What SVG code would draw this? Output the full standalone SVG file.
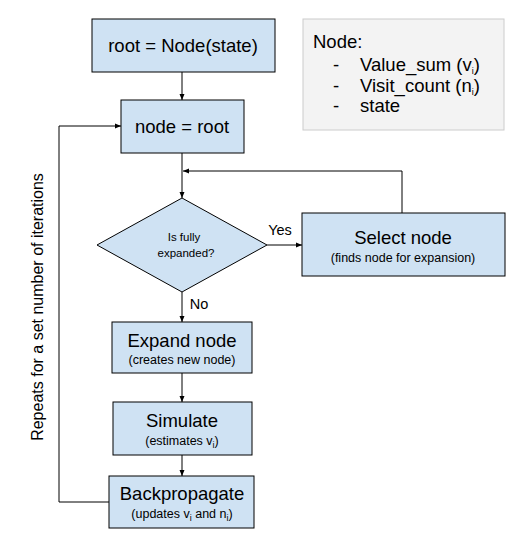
<svg xmlns="http://www.w3.org/2000/svg" width="527" height="544" viewBox="0 0 527 544">
<style>
.box{fill:#cfe2f3;stroke:#000;stroke-width:1}
.t{font-family:"Liberation Sans",Arial,sans-serif;fill:#000;text-anchor:middle}
.big{font-size:18.5px}
.sm{font-size:12.5px}
.xs{font-size:11.5px}
.ln{fill:none;stroke:#000;stroke-width:1}
.sub{font-size:9px}
.lg{font-family:"Liberation Sans",Arial,sans-serif;font-size:18.5px}
</style>
<defs>
<marker id="ah" markerWidth="6" markerHeight="6" refX="6" refY="3" orient="auto" markerUnits="userSpaceOnUse">
<path d="M0,0.5 L6,3 L0,5.5 Z" fill="#000"/>
</marker>
</defs>
<rect width="527" height="544" fill="#fff"/>
<g id="connectors">
<line class="ln" x1="182" y1="72" x2="182" y2="100" marker-end="url(#ah)"/>
<line class="ln" x1="182" y1="153" x2="182" y2="198" marker-end="url(#ah)"/>
<polyline class="ln" points="402,213 402,171 183,171" marker-end="url(#ah)"/>
<line class="ln" x1="267" y1="245" x2="302" y2="245" marker-end="url(#ah)"/>
<line class="ln" x1="182" y1="292" x2="182" y2="322" marker-end="url(#ah)"/>
<line class="ln" x1="182" y1="373" x2="182" y2="402" marker-end="url(#ah)"/>
<line class="ln" x1="182" y1="455" x2="182" y2="476" marker-end="url(#ah)"/>
<polyline class="ln" points="109,502 59,502 59,126 121,126" marker-end="url(#ah)"/>
<text class="t" x="280" y="235" style="font-size:14.5px">Yes</text>
<text class="t" x="199" y="309" style="font-size:14.5px">No</text>
<text class="t" transform="translate(43,307) rotate(-90)" style="font-size:16px">Repeats for a set number of iterations</text>
</g>
<g id="root">
<rect class="box" x="92" y="19" width="183" height="53"/>
<text class="t big" x="183" y="52">root = Node(state)</text>
</g>
<g id="node-root">
<rect class="box" x="121" y="100" width="123" height="53"/>
<text class="t big" x="182" y="133">node = root</text>
</g>
<g id="legend">
<rect x="303" y="19" width="201" height="111" fill="#f3f3f3" stroke="#cccccc" stroke-width="1"/>
<text class="lg" x="313" y="48">Node:</text>
<text class="lg" x="333" y="71">-</text>
<text class="lg" x="360" y="71">Value_sum (v<tspan class="sub" dy="3">i</tspan><tspan dy="-3">)</tspan></text>
<text class="lg" x="333" y="92">-</text>
<text class="lg" x="360" y="92">Visit_count (n<tspan class="sub" dy="3">i</tspan><tspan dy="-3">)</tspan></text>
<text class="lg" x="333" y="112">-</text>
<text class="lg" x="360" y="112">state</text>
</g>
<g id="decision">
<polygon class="box" points="182,198 267,245 182,292 97,245"/>
<text class="t xs" x="184" y="241">Is fully</text>
<text class="t xs" x="186" y="257">expanded?</text>
</g>
<g id="select">
<rect class="box" x="302" y="213" width="203" height="63"/>
<text class="t big" x="403" y="244">Select node</text>
<text class="t sm" x="403" y="262">(finds node for expansion)</text>
</g>
<g id="expand">
<rect class="box" x="112" y="322" width="140" height="51"/>
<text class="t big" x="182" y="347">Expand node</text>
<text class="t sm" x="182" y="364">(creates new node)</text>
</g>
<g id="simulate">
<rect class="box" x="113" y="402" width="139" height="53"/>
<text class="t big" x="182" y="427">Simulate</text>
<text class="t sm" x="182" y="445">(estimates v<tspan class="sub" dy="3">i</tspan><tspan dy="-3">)</tspan></text>
</g>
<g id="backprop">
<rect class="box" x="109" y="476" width="145" height="52"/>
<text class="t big" x="182" y="500">Backpropagate</text>
<text class="t sm" x="182" y="518">(updates v<tspan class="sub" dy="3">i</tspan><tspan dy="-3"> and n</tspan><tspan class="sub" dy="3">i</tspan><tspan dy="-3">)</tspan></text>
</g>
</svg>
